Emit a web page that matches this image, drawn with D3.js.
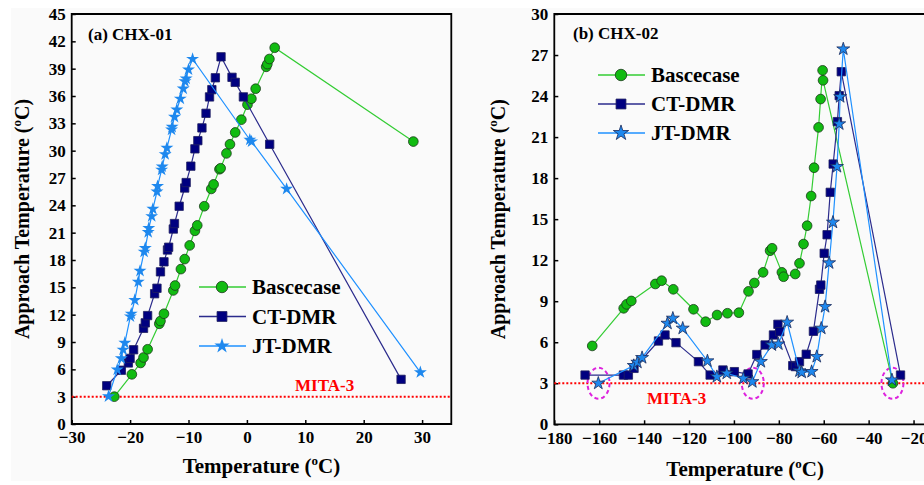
<!DOCTYPE html>
<html><head><meta charset="utf-8">
<script src="https://cdn.jsdelivr.net/npm/d3@7"></script>
<style>body{margin:0;background:#fff}svg{display:block}text{font-family:"Liberation Serif","Times New Roman",serif;font-weight:bold}</style>
</head><body><svg id="c" width="924" height="485"></svg>
<script>
// ---- Panel (a) CHX-01 data ----
const aBaseX = [-22.7,-19.7,-18.2,-17.7,-17.0,-15.0,-14.8,-14.2,-12.6,-12.3,-11.3,-10.65,-9.8,-8.9,-8.5,-7.3,-6.1,-5.7,-4.7,-4.5,-3.5,-2.9,-2.0,-0.95,0.1,0.77,1.5,3.3,3.5,3.85,4.76,28.5];
const aBaseY = [3.0,5.45,6.7,7.3,8.2,11.0,11.3,12.1,14.66,15.2,17.0,18.1,19.6,21.2,21.8,23.9,25.8,26.3,27.96,28.07,29.7,30.7,32.0,33.4,35.05,35.7,36.8,39.2,39.5,40.06,41.3,31.0];
const aCtX = [-24.0,-21.5,-20.3,-20.0,-19.4,-17.7,-17.4,-17.0,-15.8,-15.4,-14.8,-14.2,-13.6,-13.4,-12.6,-12.4,-11.6,-10.65,-10.4,-9.6,-8.9,-8.4,-7.7,-7.0,-6.4,-6.0,-5.4,-4.43,-2.55,-2.0,-0.6,3.9,26.4];
const aCtY = [4.2,5.9,6.7,7.2,8.15,10.5,11.1,11.9,14.3,14.9,16.7,17.8,19.1,19.4,21.4,22.0,23.9,25.9,26.5,28.3,30.2,31.1,32.5,34.1,35.9,36.7,38.0,40.3,38.05,37.5,35.9,30.7,4.9];
const aJtX = [-23.7,-22.2,-21.5,-21.2,-20.9,-19.95,-19.8,-19.2,-18.6,-18.3,-17.6,-17.4,-16.9,-16.8,-16.3,-16.1,-15.4,-15.3,-14.6,-14.5,-14.0,-13.7,-12.9,-12.8,-12.4,-12.0,-11.4,-10.9,-10.6,-10.4,-10.0,-9.3,0.5,0.8,6.8,29.7];
const aJtY = [3.03,5.96,7.2,8.15,8.9,11.8,12.1,13.6,15.6,16.8,18.9,19.3,21.05,21.5,22.8,23.6,25.5,26.1,27.9,28.25,29.6,30.3,32.3,32.6,33.7,34.5,35.7,36.8,37.6,37.9,38.9,40.06,31.2,31.0,25.8,5.67];

// ---- Panel (b) CHX-02 data ----
const bBaseX = [-163.1,-149.1,-147.8,-145.7,-135.0,-132.2,-127.0,-118.0,-112.6,-107.5,-102.9,-97.8,-93.5,-90.9,-87.0,-83.9,-83.0,-78.65,-77.9,-72.7,-70.8,-69.0,-67.4,-65.6,-64.3,-62.3,-61.4,-60.5,-60.3,-29.2];
const bBaseY = [5.73,8.48,8.77,9.02,10.26,10.5,9.87,8.41,7.5,7.99,8.12,8.16,9.72,10.33,11.11,12.69,12.87,11.11,10.79,10.99,11.77,13.18,14.52,16.69,18.76,21.71,23.78,25.88,25.15,3.0];
const bCtX = [-166.3,-149.2,-147.0,-144.5,-133.6,-130.7,-125.8,-115.8,-110.6,-104.9,-99.8,-93.7,-89.8,-86.1,-82.4,-80.4,-79.6,-73.8,-72.6,-70.8,-67.8,-64.6,-61.9,-61.3,-59.8,-58.5,-57.1,-55.8,-53.9,-53.1,-52.2,-25.8];
const bCtY = [3.6,3.6,3.6,4.09,6.09,6.53,5.97,4.58,3.6,3.97,3.85,3.68,5.1,5.8,6.53,7.31,6.77,4.29,4.22,4.58,5.12,6.8,9.87,10.18,12.5,13.86,16.96,19.03,22.13,24.03,25.78,3.6];
const bJtX = [-160.4,-144.6,-143.0,-140.9,-129.6,-127.2,-122.8,-111.8,-107.6,-103.2,-95.8,-91.8,-88.0,-83.1,-80.2,-76.3,-70.8,-69.8,-65.4,-63.1,-61.1,-59.4,-57.6,-55.9,-54.1,-53.1,-52.7,-51.3,-29.6];
const bJtY = [3.0,4.29,4.53,4.87,7.38,7.75,7.02,4.63,3.48,3.73,3.36,3.11,4.58,5.8,5.87,7.46,3.9,3.8,3.85,4.95,7.02,8.6,11.8,14.77,18.84,21.96,23.95,27.44,3.24];
const bHighlightX = [-160.3,-91.6,-29.4];
const mitaLevel = 3;

const seriesNames = ["Bascecase","CT-DMR","JT-DMR"];
const aXTicks = [-30,-20,-10,0,10,20,30];
const aYTicks = d3.range(0,46,3);
const bXTicks = [-180,-160,-140,-120,-100,-80,-60,-40,-20];
const bYTicks = d3.range(0,31,3);

const svg = d3.select("#c");
svg.append("rect").attr("x",11).attr("y",8).attr("width",913).attr("height",473).attr("fill","#fafafa");

const styles = [
  {line:"#33cc33", fill:"#11bb11", stroke:"#1a3a1a", sym:d3.symbolCircle, size:74},
  {line:"#2b2b8c", fill:"#000080", stroke:"#202060", sym:d3.symbolSquare, size:70},
  {line:"#1e90ff", fill:"#1e88ee", stroke:null, sym:d3.symbolStar, size:52}
];

function panel(opt){
  const g = svg.append("g");
  const x = d3.scaleLinear().domain(opt.xd).range(opt.xr);
  const y = d3.scaleLinear().domain(opt.yd).range(opt.yr);
  // axes
  const ax = g.append("g").attr("transform",`translate(0,${opt.yr[0]})`)
    .call(d3.axisBottom(x).tickValues(opt.xt).tickSizeInner(-4).tickSizeOuter(0).tickPadding(5).tickFormat(d3.format("d")));
  const ay = g.append("g").attr("transform",`translate(${opt.xr[0]},0)`)
    .call(d3.axisLeft(y).tickValues(opt.yt).tickSizeInner(-4).tickSizeOuter(0).tickPadding(6).tickFormat(d3.format("d")));
  [ax,ay].forEach(a=>{
    a.select(".domain").remove();
    a.selectAll(".tick line").attr("stroke","#000").attr("stroke-width",1.5);
    a.selectAll(".tick text").attr("font-size",17).attr("fill","#000")
      .style("font-family",'"Liberation Serif","Times New Roman",serif').style("font-weight","bold");
  });
  ax.selectAll(".tick text").attr("dy","0.85em");
  // frame
  const [x0,x1] = opt.xr, [y0,y1] = opt.yr;
  g.append("path").attr("d",`M${x0},${y1}V${y0}H${x1}V${y1}Z`).attr("fill","none").attr("stroke","#000").attr("stroke-width",1.8);
  // MITA line
  g.append("line").attr("x1",x0).attr("x2",x1).attr("y1",y(mitaLevel)).attr("y2",y(mitaLevel))
    .attr("stroke","#ff0000").attr("stroke-width",2).attr("stroke-dasharray","2,2");
  g.append("text").attr("x",opt.mita[0]).attr("y",opt.mita[1]).attr("fill","#ff0000").attr("font-size",17).text("MITA-3");
  // highlight ellipses
  (opt.hl||[]).forEach(hx=>{
    g.append("ellipse").attr("cx",x(hx)).attr("cy",y(mitaLevel)).attr("rx",11).attr("ry",15.5)
      .attr("fill","none").attr("stroke","#dd22dd").attr("stroke-width",2).attr("stroke-dasharray","4,3");
  });
  // series
  const lineGen = d3.line().x(d=>x(d[0])).y(d=>y(d[1]));
  opt.series.forEach((s,i)=>{
    const st = styles[i];
    const pts = s[0].map((v,k)=>[v,s[1][k]]);
    g.append("path").datum(pts).attr("d",lineGen).attr("fill","none").attr("stroke",st.line).attr("stroke-width",1.2);
    g.selectAll(null).data(pts).enter().append("path")
      .attr("transform",d=>`translate(${x(d[0])},${y(d[1])})`)
      .attr("d",d3.symbol().type(st.sym).size(st.size))
      .attr("fill",st.fill)
      .attr("stroke", i===2 ? (opt.starStroke||"none") : st.stroke)
      .attr("stroke-width",0.8);
  });
  // labels
  g.append("text").attr("x",opt.title[0]).attr("y",opt.title[1]).attr("font-size",17).text(opt.titleText);
  const xt = g.append("text").attr("x",(x0+x1)/2).attr("y",opt.xlabY).attr("text-anchor","middle").attr("font-size",21);
  xt.append("tspan").text("Temperature (");
  xt.append("tspan").attr("font-size",13).attr("dy",-8).text("o");
  xt.append("tspan").attr("dy",8).text("C)");
  const yt = g.append("text").attr("transform",`translate(${opt.ylabX},${(y0+y1)/2}) rotate(-90)`).attr("text-anchor","middle").attr("font-size",20);
  yt.append("tspan").text("Approach Temperature (");
  yt.append("tspan").attr("font-size",13).attr("dy",-8).text("o");
  yt.append("tspan").attr("dy",8).text("C)");
  // legend
  seriesNames.forEach((n,i)=>{
    const st = styles[i];
    const ly = opt.leg[1] + i*opt.leg[2];
    g.append("line").attr("x1",opt.leg[0]-23).attr("x2",opt.leg[0]+24).attr("y1",ly).attr("y2",ly).attr("stroke",st.line).attr("stroke-width",1.5);
    g.append("path").attr("transform",`translate(${opt.leg[0]},${ly})`)
      .attr("d",d3.symbol().type(st.sym).size(st.size*1.4)).attr("fill",st.fill)
      .attr("stroke", i===2 ? (opt.starStroke||"none") : st.stroke).attr("stroke-width",0.8);
    g.append("text").attr("x",opt.leg[0]+30).attr("y",ly+7).attr("font-size",21).text(n);
  });
}

panel({xd:[-30,35], xr:[71.7,451.3], yd:[0,45], yr:[424,14], xt:aXTicks, yt:aYTicks,
  series:[[aBaseX,aBaseY],[aCtX,aCtY],[aJtX,aJtY]], mita:[295,391],
  title:[88,40], titleText:"(a) CHX-01", xlabY:473, ylabX:29, leg:[222,287,29.5]});
panel({xd:[-180,-10], xr:[554.3,936], yd:[0,30], yr:[424.3,14], xt:bXTicks, yt:bYTicks,
  series:[[bBaseX,bBaseY],[bCtX,bCtY],[bJtX,bJtY]], mita:[647,404], hl:bHighlightX, starStroke:"#1a2a5a",
  title:[573,39], titleText:"(b) CHX-02", xlabY:476, ylabX:505, leg:[621,75,29]});
</script></body></html>
